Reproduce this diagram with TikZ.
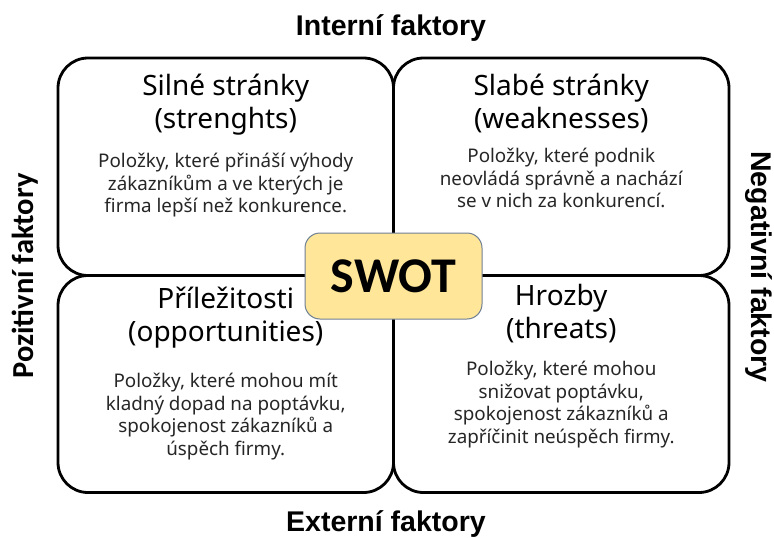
\documentclass[tikz,border=0pt]{standalone}
\usepackage{fontspec}
\setmainfont{Noto Sans}
\newfontfamily\arialfont{Liberation Sans}
\newfontfamily\carlitofont{Carlito}
\definecolor{swotfill}{HTML}{FFE699}
\definecolor{swotline}{HTML}{6F7F95}
\begin{document}
\begin{tikzpicture}[x=1pt,y=-1pt,
  quad/.style={draw=black,line width=2.8pt,rounded corners=30pt},
  titletext/.style={anchor=north,inner sep=0pt,align=center,
    font=\fontsize{28}{33}\selectfont,execute at begin node=\strut},
  desctext/.style={anchor=north,inner sep=0pt,align=center,
    font=\fontsize{18.8}{22.5}\selectfont,execute at begin node=\strut,text=black!85},
  sidelabel/.style={inner sep=0pt,anchor=base},
]
\useasboundingbox (0,0) rectangle (774,538);
\fill[white] (0,0) rectangle (774,538);

% quadrants
\draw[quad] (58,58) rectangle (393.5,275.5);
\draw[quad] (393.5,58) rectangle (729,275.5);
\draw[quad] (58,275.5) rectangle (393.5,492.5);
\draw[quad] (393.5,275.5) rectangle (729,492.5);

% centre
\node[draw=swotline,line width=1pt,fill=swotfill,rounded corners=15pt,
  minimum width=177pt,minimum height=86pt,inner sep=0pt,
  font=\carlitofont\bfseries\fontsize{50}{50}\selectfont] (swot) at (393.5,276) {SWOT};

% titles
\node[titletext] (sTitle) at (225.75,97-23.1) {Silné stránky\\(strenghts)};
\node[titletext] (wTitle) at (561.25,97-23.1) {Slabé stránky\\(weaknesses)};
\node[titletext] (oTitle) at (225.75,310-23.1) {Příležitosti\\(opportunities)};
\node[titletext] (tTitle) at (561.25,307-23.1) {Hrozby\\(threats)};

% descriptions
\node[desctext] (sDesc) at (225.75,169-15.75) {Položky, které přináší výhody\\zákazníkům a ve kterých je\\firma lepší než konkurence.};
\node[desctext] (wDesc) at (561.25,164-15.75) {Položky, které podnik\\neovládá správně a nachází\\se v nich za konkurencí.};
\node[desctext] (oDesc) at (225.75,389-15.75) {Položky, které mohou mít\\kladný dopad na poptávku,\\spokojenost zákazníků a\\úspěch firmy.};
\node[desctext] (tDesc) at (561.25,377-15.75) {Položky, které mohou\\snižovat poptávku,\\spokojenost zákazníků a\\zapříčinit neúspěch firmy.};

% side labels
\node[sidelabel,font=\arialfont\bfseries\fontsize{28.5}{30}\selectfont] (intern) at (391,35) {Interní faktory};
\node[sidelabel,font=\arialfont\bfseries\fontsize{28.5}{30}\selectfont] (extern) at (386,531) {Externí faktory};
\node[sidelabel,rotate=90,font=\carlitofont\bfseries\fontsize{30.5}{32}\selectfont] (pozit) at (33,276) {Pozitivní faktory};
\node[sidelabel,rotate=-90,font=\arialfont\bfseries\fontsize{28.5}{30}\selectfont] (negat) at (751,267) {Negativní faktory};
\end{tikzpicture}
\end{document}
